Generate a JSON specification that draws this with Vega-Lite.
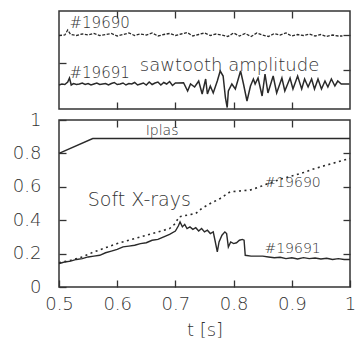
{
  "$schema": "https://vega.github.io/schema/vega-lite/v6.json",
  "background": "white",
  "padding": {"left": 11, "top": 9, "right": 0, "bottom": 0},
  "spacing": 11,
  "bounds": "flush",
  "config": {
    "view": {"stroke": "#333", "strokeWidth": 1.5},
    "axis": {"domain": false, "grid": false, "tickColor": "#333", "tickWidth": 1.3, "tickSize": -7,
      "labelFont": "DejaVu Sans", "labelFontSize": 18, "labelColor": "#333", "labelFontWeight": 200,
      "labelFlush": false, "labelOverlap": false, "format": "~g",
      "titleFont": "DejaVu Sans", "titleFontSize": 18, "titleFontWeight": 200, "titleColor": "#333"},
    "text": {"font": "DejaVu Sans", "fontWeight": 200, "color": "#333"}
  },
  "datasets": {
    "saw": [
      {"t":0.500,"v":24,"shot":"19691"},{"t":0.505,"v":25,"shot":"19691"},{"t":0.510,"v":24.5,"shot":"19691"},{"t":0.515,"v":27,"shot":"19691"},{"t":0.518,"v":31,"shot":"19691"},{"t":0.521,"v":24,"shot":"19691"},{"t":0.525,"v":25.5,"shot":"19691"},{"t":0.530,"v":24.5,"shot":"19691"},{"t":0.535,"v":25,"shot":"19691"},{"t":0.540,"v":26,"shot":"19691"},{"t":0.545,"v":24.5,"shot":"19691"},{"t":0.550,"v":25.5,"shot":"19691"},{"t":0.555,"v":24,"shot":"19691"},{"t":0.560,"v":25,"shot":"19691"},{"t":0.565,"v":26,"shot":"19691"},{"t":0.570,"v":24.5,"shot":"19691"},{"t":0.575,"v":25,"shot":"19691"},{"t":0.580,"v":25.5,"shot":"19691"},{"t":0.585,"v":24,"shot":"19691"},{"t":0.590,"v":25.5,"shot":"19691"},{"t":0.595,"v":26.5,"shot":"19691"},{"t":0.600,"v":24.5,"shot":"19691"},{"t":0.605,"v":25,"shot":"19691"},{"t":0.610,"v":26,"shot":"19691"},{"t":0.615,"v":24,"shot":"19691"},{"t":0.620,"v":25.5,"shot":"19691"},{"t":0.625,"v":25,"shot":"19691"},{"t":0.630,"v":26.5,"shot":"19691"},{"t":0.635,"v":24,"shot":"19691"},{"t":0.640,"v":25,"shot":"19691"},{"t":0.645,"v":26,"shot":"19691"},{"t":0.650,"v":24,"shot":"19691"},{"t":0.655,"v":27,"shot":"19691"},{"t":0.660,"v":24.5,"shot":"19691"},{"t":0.665,"v":26,"shot":"19691"},{"t":0.670,"v":27,"shot":"19691"},{"t":0.675,"v":24,"shot":"19691"},{"t":0.680,"v":26.5,"shot":"19691"},{"t":0.685,"v":25,"shot":"19691"},{"t":0.690,"v":27.5,"shot":"19691"},{"t":0.695,"v":23.5,"shot":"19691"},{"t":0.700,"v":26,"shot":"19691"},{"t":0.704,"v":26,"shot":"19691"},{"t":0.714,"v":26.3,"shot":"19691"},{"t":0.721,"v":18,"shot":"19691"},{"t":0.726,"v":25,"shot":"19691"},{"t":0.733,"v":22,"shot":"19691"},{"t":0.740,"v":28,"shot":"19691"},{"t":0.746,"v":15,"shot":"19691"},{"t":0.752,"v":30,"shot":"19691"},{"t":0.755,"v":15,"shot":"19691"},{"t":0.760,"v":23,"shot":"19691"},{"t":0.765,"v":16,"shot":"19691"},{"t":0.772,"v":28,"shot":"19691"},{"t":0.777,"v":38,"shot":"19691"},{"t":0.782,"v":33,"shot":"19691"},{"t":0.786,"v":11,"shot":"19691"},{"t":0.789,"v":1.5,"shot":"19691"},{"t":0.791,"v":18,"shot":"19691"},{"t":0.797,"v":25,"shot":"19691"},{"t":0.803,"v":20,"shot":"19691"},{"t":0.812,"v":38,"shot":"19691"},{"t":0.817,"v":25,"shot":"19691"},{"t":0.823,"v":8,"shot":"19691"},{"t":0.829,"v":23,"shot":"19691"},{"t":0.834,"v":30,"shot":"19691"},{"t":0.837,"v":25,"shot":"19691"},{"t":0.842,"v":31,"shot":"19691"},{"t":0.849,"v":13,"shot":"19691"},{"t":0.854,"v":35,"shot":"19691"},{"t":0.859,"v":16,"shot":"19691"},{"t":0.868,"v":33,"shot":"19691"},{"t":0.874,"v":16,"shot":"19691"},{"t":0.883,"v":31,"shot":"19691"},{"t":0.888,"v":18,"shot":"19691"},{"t":0.897,"v":31,"shot":"19691"},{"t":0.902,"v":20,"shot":"19691"},{"t":0.910,"v":33,"shot":"19691"},{"t":0.917,"v":20,"shot":"19691"},{"t":0.922,"v":30,"shot":"19691"},{"t":0.928,"v":22,"shot":"19691"},{"t":0.934,"v":30,"shot":"19691"},{"t":0.939,"v":20,"shot":"19691"},{"t":0.945,"v":30,"shot":"19691"},{"t":0.951,"v":20,"shot":"19691"},{"t":0.957,"v":28,"shot":"19691"},{"t":0.962,"v":22,"shot":"19691"},{"t":0.968,"v":30,"shot":"19691"},{"t":0.974,"v":23,"shot":"19691"},{"t":0.979,"v":28,"shot":"19691"},{"t":0.985,"v":25,"shot":"19691"},{"t":0.999,"v":25,"shot":"19691"},
      {"t":0.500,"v":73.5,"shot":"19690"},{"t":0.510,"v":74,"shot":"19690"},{"t":0.515,"v":79,"shot":"19690"},{"t":0.520,"v":74.5,"shot":"19690"},{"t":0.530,"v":73.5,"shot":"19690"},{"t":0.540,"v":75,"shot":"19690"},{"t":0.550,"v":74,"shot":"19690"},{"t":0.560,"v":75.5,"shot":"19690"},{"t":0.570,"v":73.5,"shot":"19690"},{"t":0.580,"v":74.5,"shot":"19690"},{"t":0.590,"v":75.5,"shot":"19690"},{"t":0.600,"v":73,"shot":"19690"},{"t":0.610,"v":74.5,"shot":"19690"},{"t":0.620,"v":76,"shot":"19690"},{"t":0.630,"v":73.5,"shot":"19690"},{"t":0.640,"v":75,"shot":"19690"},{"t":0.650,"v":74,"shot":"19690"},{"t":0.660,"v":76,"shot":"19690"},{"t":0.670,"v":73,"shot":"19690"},{"t":0.680,"v":74.5,"shot":"19690"},{"t":0.690,"v":75.5,"shot":"19690"},{"t":0.700,"v":73.5,"shot":"19690"},{"t":0.710,"v":75,"shot":"19690"},{"t":0.720,"v":76.5,"shot":"19690"},{"t":0.730,"v":73,"shot":"19690"},{"t":0.740,"v":74.5,"shot":"19690"},{"t":0.750,"v":76,"shot":"19690"},{"t":0.760,"v":73.5,"shot":"19690"},{"t":0.770,"v":75,"shot":"19690"},{"t":0.780,"v":74,"shot":"19690"},{"t":0.790,"v":72.5,"shot":"19690"},{"t":0.800,"v":76,"shot":"19690"},{"t":0.810,"v":73,"shot":"19690"},{"t":0.820,"v":75.5,"shot":"19690"},{"t":0.830,"v":72.5,"shot":"19690"},{"t":0.840,"v":76,"shot":"19690"},{"t":0.850,"v":74,"shot":"19690"},{"t":0.860,"v":72.5,"shot":"19690"},{"t":0.870,"v":75.5,"shot":"19690"},{"t":0.880,"v":74,"shot":"19690"},{"t":0.890,"v":76,"shot":"19690"},{"t":0.900,"v":73,"shot":"19690"},{"t":0.910,"v":74.5,"shot":"19690"},{"t":0.920,"v":73.5,"shot":"19690"},{"t":0.930,"v":75,"shot":"19690"},{"t":0.940,"v":73,"shot":"19690"},{"t":0.950,"v":74.5,"shot":"19690"},{"t":0.960,"v":72.5,"shot":"19690"},{"t":0.970,"v":74,"shot":"19690"},{"t":0.980,"v":73,"shot":"19690"},{"t":0.987,"v":73,"shot":"19690"}
    ],
    "sxr": [
      {"t":0.5,"v":0.80,"s":"Iplas"},{"t":0.558,"v":0.889,"s":"Iplas"},{"t":1.0,"v":0.889,"s":"Iplas"},
      {"t":0.500,"v":0.14,"s":"19691"},{"t":0.505,"v":0.145,"s":"19691"},{"t":0.51,"v":0.15,"s":"19691"},{"t":0.52,"v":0.155,"s":"19691"},{"t":0.53,"v":0.165,"s":"19691"},{"t":0.54,"v":0.17,"s":"19691"},{"t":0.55,"v":0.18,"s":"19691"},{"t":0.56,"v":0.185,"s":"19691"},{"t":0.57,"v":0.19,"s":"19691"},{"t":0.58,"v":0.205,"s":"19691"},{"t":0.59,"v":0.215,"s":"19691"},{"t":0.60,"v":0.225,"s":"19691"},{"t":0.61,"v":0.24,"s":"19691"},{"t":0.62,"v":0.245,"s":"19691"},{"t":0.63,"v":0.25,"s":"19691"},{"t":0.64,"v":0.26,"s":"19691"},{"t":0.65,"v":0.265,"s":"19691"},{"t":0.66,"v":0.28,"s":"19691"},{"t":0.67,"v":0.285,"s":"19691"},{"t":0.68,"v":0.30,"s":"19691"},{"t":0.69,"v":0.315,"s":"19691"},{"t":0.70,"v":0.335,"s":"19691"},{"t":0.705,"v":0.365,"s":"19691"},{"t":0.708,"v":0.39,"s":"19691"},{"t":0.712,"v":0.36,"s":"19691"},{"t":0.716,"v":0.375,"s":"19691"},{"t":0.72,"v":0.35,"s":"19691"},{"t":0.725,"v":0.36,"s":"19691"},{"t":0.73,"v":0.345,"s":"19691"},{"t":0.735,"v":0.355,"s":"19691"},{"t":0.74,"v":0.335,"s":"19691"},{"t":0.745,"v":0.35,"s":"19691"},{"t":0.75,"v":0.33,"s":"19691"},{"t":0.755,"v":0.34,"s":"19691"},{"t":0.76,"v":0.32,"s":"19691"},{"t":0.765,"v":0.33,"s":"19691"},{"t":0.768,"v":0.28,"s":"19691"},{"t":0.772,"v":0.21,"s":"19691"},{"t":0.775,"v":0.27,"s":"19691"},{"t":0.78,"v":0.31,"s":"19691"},{"t":0.785,"v":0.33,"s":"19691"},{"t":0.788,"v":0.32,"s":"19691"},{"t":0.791,"v":0.24,"s":"19691"},{"t":0.795,"v":0.27,"s":"19691"},{"t":0.80,"v":0.26,"s":"19691"},{"t":0.805,"v":0.265,"s":"19691"},{"t":0.81,"v":0.28,"s":"19691"},{"t":0.815,"v":0.285,"s":"19691"},{"t":0.818,"v":0.28,"s":"19691"},{"t":0.82,"v":0.19,"s":"19691"},{"t":0.83,"v":0.185,"s":"19691"},{"t":0.84,"v":0.185,"s":"19691"},{"t":0.85,"v":0.185,"s":"19691"},{"t":0.86,"v":0.18,"s":"19691"},{"t":0.87,"v":0.175,"s":"19691"},{"t":0.88,"v":0.178,"s":"19691"},{"t":0.89,"v":0.17,"s":"19691"},{"t":0.90,"v":0.175,"s":"19691"},{"t":0.91,"v":0.168,"s":"19691"},{"t":0.92,"v":0.176,"s":"19691"},{"t":0.93,"v":0.17,"s":"19691"},{"t":0.94,"v":0.174,"s":"19691"},{"t":0.95,"v":0.168,"s":"19691"},{"t":0.96,"v":0.172,"s":"19691"},{"t":0.97,"v":0.165,"s":"19691"},{"t":0.98,"v":0.17,"s":"19691"},{"t":0.99,"v":0.165,"s":"19691"},{"t":1.0,"v":0.165,"s":"19691"},
      {"t":0.50,"v":0.145,"s":"19690"},{"t":0.52,"v":0.16,"s":"19690"},{"t":0.54,"v":0.18,"s":"19690"},{"t":0.56,"v":0.21,"s":"19690"},{"t":0.58,"v":0.235,"s":"19690"},{"t":0.60,"v":0.26,"s":"19690"},{"t":0.62,"v":0.28,"s":"19690"},{"t":0.64,"v":0.30,"s":"19690"},{"t":0.66,"v":0.32,"s":"19690"},{"t":0.68,"v":0.34,"s":"19690"},{"t":0.69,"v":0.35,"s":"19690"},{"t":0.70,"v":0.38,"s":"19690"},{"t":0.706,"v":0.42,"s":"19690"},{"t":0.72,"v":0.43,"s":"19690"},{"t":0.735,"v":0.44,"s":"19690"},{"t":0.745,"v":0.47,"s":"19690"},{"t":0.76,"v":0.50,"s":"19690"},{"t":0.777,"v":0.53,"s":"19690"},{"t":0.794,"v":0.57,"s":"19690"},{"t":0.81,"v":0.575,"s":"19690"},{"t":0.828,"v":0.58,"s":"19690"},{"t":0.845,"v":0.60,"s":"19690"},{"t":0.86,"v":0.62,"s":"19690"},{"t":0.88,"v":0.645,"s":"19690"},{"t":0.90,"v":0.665,"s":"19690"},{"t":0.92,"v":0.685,"s":"19690"},{"t":0.94,"v":0.71,"s":"19690"},{"t":0.96,"v":0.73,"s":"19690"},{"t":0.98,"v":0.75,"s":"19690"},{"t":1.0,"v":0.77,"s":"19690"}
    ]
  },
  "vconcat": [
    {
      "width": 291, "height": 98,
      "resolve": {"axis": {"x": "independent", "y": "independent"}},
      "layer": [
        {
          "data": {"name": "saw"},
          "transform": [{"filter": "datum.shot === '19691'"}],
          "mark": {"type": "line", "color": "#2a2a2a", "strokeWidth": 1.5, "interpolate": "linear"},
          "encoding": {
            "x": {"field": "t", "type": "quantitative", "scale": {"domain": [0.5, 1], "nice": false},
              "axis": {"orient": "bottom", "values": [0.6, 0.7, 0.8, 0.9], "labels": false, "title": null}},
            "y": {"field": "v", "type": "quantitative", "scale": {"domain": [0, 98], "nice": false},
              "axis": {"orient": "left", "values": [46], "labels": false, "title": null}}
          }
        },
        {
          "data": {"name": "saw"},
          "transform": [{"filter": "datum.shot === '19690'"}],
          "mark": {"type": "line", "color": "#2a2a2a", "strokeWidth": 1.3, "strokeDash": [3, 1.5]},
          "encoding": {
            "x": {"field": "t", "type": "quantitative",
              "axis": {"orient": "top", "values": [0.6, 0.7, 0.8, 0.9], "labels": false, "title": null}},
            "y": {"field": "v", "type": "quantitative",
              "axis": {"orient": "right", "values": [39, 74], "labels": false, "title": null}}
          }
        },
        {
          "data": {"values": [{"t": 0.518, "v": 86.5, "label": "#19690"}, {"t": 0.518, "v": 36, "label": "#19691"}]},
          "mark": {"type": "text", "fontSize": 15, "align": "left", "baseline": "middle"},
          "encoding": {
            "x": {"field": "t", "type": "quantitative", "axis": null},
            "y": {"field": "v", "type": "quantitative", "axis": null},
            "text": {"field": "label"}
          }
        },
        {
          "data": {"values": [{"t": 0.793, "v": 43, "label": "sawtooth amplitude"}]},
          "mark": {"type": "text", "fontSize": 18, "align": "center", "baseline": "middle"},
          "encoding": {
            "x": {"field": "t", "type": "quantitative", "axis": null},
            "y": {"field": "v", "type": "quantitative", "axis": null},
            "text": {"field": "label"}
          }
        }
      ]
    },
    {
      "width": 291, "height": 167,
      "resolve": {"axis": {"x": "independent", "y": "independent"}},
      "layer": [
        {
          "data": {"name": "sxr"},
          "transform": [{"filter": "datum.s === 'Iplas'"}],
          "mark": {"type": "line", "color": "#2a2a2a", "strokeWidth": 1.4},
          "encoding": {
            "x": {"field": "t", "type": "quantitative", "scale": {"domain": [0.5, 1], "nice": false},
              "axis": {"orient": "bottom", "values": [0.5, 0.6, 0.7, 0.8, 0.9, 1], "labelPadding": 15, "title": "t [s]", "titlePadding": 8}},
            "y": {"field": "v", "type": "quantitative", "scale": {"domain": [0, 1], "nice": false},
              "axis": {"orient": "left", "values": [0, 0.2, 0.4, 0.6, 0.8, 1], "labelPadding": 25, "title": null}}
          }
        },
        {
          "data": {"name": "sxr"},
          "transform": [{"filter": "datum.s === '19691'"}],
          "mark": {"type": "line", "color": "#2a2a2a", "strokeWidth": 1.4},
          "encoding": {
            "x": {"field": "t", "type": "quantitative",
              "axis": {"orient": "top", "values": [0.6, 0.7, 0.8, 0.9], "labels": false, "title": null}},
            "y": {"field": "v", "type": "quantitative",
              "axis": {"orient": "right", "values": [0.2, 0.4, 0.6, 0.8], "labels": false, "title": null}}
          }
        },
        {
          "data": {"name": "sxr"},
          "transform": [{"filter": "datum.s === '19690'"}],
          "mark": {"type": "line", "color": "#2a2a2a", "strokeWidth": 1.6, "strokeDash": [2, 3.5]},
          "encoding": {
            "x": {"field": "t", "type": "quantitative", "axis": null},
            "y": {"field": "v", "type": "quantitative", "axis": null}
          }
        },
        {
          "data": {"values": [{"t": 0.853, "v": 0.62, "label": "#19690"}, {"t": 0.853, "v": 0.23, "label": "#19691"}, {"t": 0.649, "v": 0.934, "label": "Iplas"}]},
          "mark": {"type": "text", "fontSize": 14, "align": "left", "baseline": "middle"},
          "encoding": {
            "x": {"field": "t", "type": "quantitative", "axis": null},
            "y": {"field": "v", "type": "quantitative", "axis": null},
            "text": {"field": "label"}
          }
        },
        {
          "data": {"values": [{"t": 0.638, "v": 0.523, "label": "Soft X-rays"}]},
          "mark": {"type": "text", "fontSize": 19, "align": "center", "baseline": "middle"},
          "encoding": {
            "x": {"field": "t", "type": "quantitative", "axis": null},
            "y": {"field": "v", "type": "quantitative", "axis": null},
            "text": {"field": "label"}
          }
        }
      ]
    }
  ]
}
